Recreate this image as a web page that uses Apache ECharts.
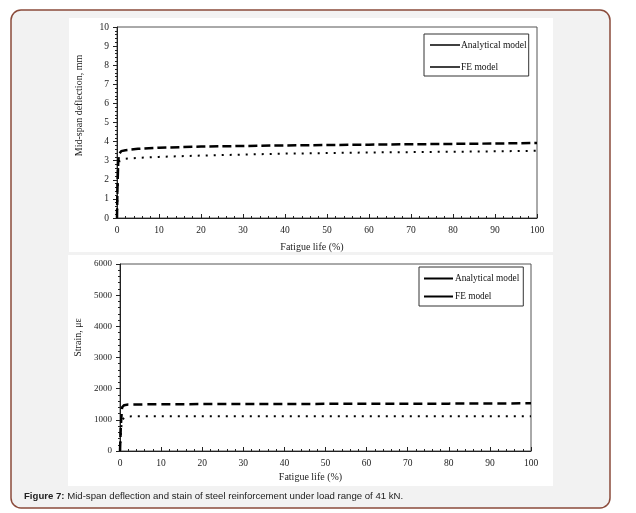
<!DOCTYPE html>
<html><head><meta charset="utf-8">
<script src="https://cdn.jsdelivr.net/npm/echarts@6/dist/echarts.min.js"></script>
<style>html,body{margin:0;padding:0;background:#fff}#c{width:636px;height:513px}</style>
</head><body><div id="c"></div>
<script>
// Top chart: mid-span deflection (mm) vs fatigue life (%)
const topAnaX = [0, 0.1, 0.3, 0.5, 1, 2, 5, 10, 20, 30, 40, 50, 60, 70, 80, 90, 100];
const topAnaY = [0, 1.5, 3.0, 3.35, 3.5, 3.55, 3.62, 3.68, 3.74, 3.77, 3.8, 3.82, 3.84, 3.86, 3.88, 3.9, 3.93];
const topFeX = [0, 0.1, 0.3, 0.6, 1, 2, 5, 10, 20, 30, 40, 50, 60, 70, 80, 90, 100];
const topFeY = [0, 1.2, 2.6, 3.0, 3.05, 3.1, 3.15, 3.2, 3.27, 3.32, 3.37, 3.4, 3.43, 3.45, 3.47, 3.49, 3.52];
// Bottom chart: strain (microstrain) vs fatigue life (%)
const botAnaX = [0, 0.2, 0.5, 1, 2, 5, 10, 20, 40, 60, 80, 100];
const botAnaY = [0, 800, 1400, 1470, 1490, 1495, 1500, 1505, 1510, 1515, 1520, 1530];
const botFeX = [0, 0.2, 0.5, 1, 1.5, 2, 5, 10, 20, 40, 60, 80, 100];
const botFeY = [0, 600, 1000, 1060, 1090, 1110, 1115, 1115, 1115, 1115, 1115, 1115, 1115];
const seriesNames = ['Analytical model', 'FE model'];
const xTitle = 'Fatigue life (%)';
const topYTitle = 'Mid-span deflection, mm';
const botYTitle = 'Strain, \u03bc\u03b5';

const pair = (xs, ys) => xs.map((x, i) => [x, ys[i]]);
const serif = 'Liberation Serif';

function xAx(gi, fs, gap) {
  return {
    type: 'value', gridIndex: gi, min: 0, max: 100, interval: 10,
    name: xTitle, nameLocation: 'middle', nameGap: gap,
    nameTextStyle: { fontFamily: serif, fontSize: 10, color: '#222', padding: [0, 30, 0, 0] },
    axisLine: { lineStyle: { color: '#222', width: 1 } },
    axisTick: { inside: true, length: 4, lineStyle: { color: '#222' } },
    minorTick: { show: true, splitNumber: 5, length: 2, lineStyle: { color: '#222' } },
    axisLabel: { fontFamily: serif, fontSize: fs, color: '#222', margin: 7 },
    splitLine: { show: false }
  };
}
function yAx(gi, max, interval, name, pad, fs) {
  return {
    type: 'value', gridIndex: gi, min: 0, max: max, interval: interval,
    name: name, nameLocation: 'middle', nameGap: 33,
    nameTextStyle: { fontFamily: serif, fontSize: 10, color: '#222', padding: pad },
    axisLine: { show: true, lineStyle: { color: '#222', width: 1 } },
    axisTick: { show: true, inside: false, length: 4, lineStyle: { color: '#222' } },
    minorTick: { show: true, splitNumber: 5, length: 2, lineStyle: { color: '#222' } },
    axisLabel: { fontFamily: serif, fontSize: fs, color: '#222', margin: 8, formatter: (v) => String(v) },
    splitLine: { show: false }
  };
}
function ser(name, gi, data, width, dash) {
  return {
    name: name, type: 'line', xAxisIndex: gi, yAxisIndex: gi, data: data,
    showSymbol: false, symbol: 'none', smooth: false, silent: true, animation: false,
    color: '#000',
    lineStyle: { color: '#000', width: width, type: dash }
  };
}

const chart = echarts.init(document.getElementById('c'), null, { renderer: 'canvas' });
chart.setOption({
  backgroundColor: '#ffffff',
  animation: false,
  graphic: [
    { type: 'rect', z: -10, shape: { x: 11, y: 10, width: 599, height: 498, r: 10 },
      style: { fill: '#f2f2f2', stroke: '#8b4b3b', lineWidth: 1.5 } },
    { type: 'rect', z: -9, shape: { x: 69, y: 18, width: 484, height: 234 }, style: { fill: '#fff' } },
    { type: 'rect', z: -9, shape: { x: 68, y: 255, width: 485, height: 231 }, style: { fill: '#fff' } },
    { type: 'text', left: 24, top: 491, style: {
        text: '{b|Figure 7:} Mid-span deflection and stain of steel reinforcement under load range of 41 kN.',
        fontFamily: 'Liberation Sans', fontSize: 9.6, fill: '#222',
        rich: { b: { fontWeight: 'bold', fontFamily: 'Liberation Sans', fontSize: 9.6, fill: '#222' } } } }
  ],
  grid: [
    { left: 117, top: 27, width: 420, height: 191, show: true, borderColor: '#555', borderWidth: 1, backgroundColor: 'transparent' },
    { left: 120, top: 264, width: 411, height: 187, show: true, borderColor: '#555', borderWidth: 1, backgroundColor: 'transparent' }
  ],
  legend: [
    { data: seriesNames, orient: 'vertical', left: 424, top: 34, icon: 'rect', itemWidth: 30, itemHeight: 1.5,
      itemGap: 12, padding: [6, 2, 4, 6], borderColor: '#333', borderWidth: 1, backgroundColor: '#fff',
      selectedMode: false, textStyle: { fontFamily: serif, fontSize: 9.5, color: '#111', padding: [0, 0, 0, -4] } },
    { data: seriesNames, orient: 'vertical', left: 419, top: 267, icon: 'rect', itemWidth: 29, itemHeight: 2,
      itemGap: 9, padding: [7, 4, 5, 5], borderColor: '#333', borderWidth: 1, backgroundColor: '#fff',
      selectedMode: false, textStyle: { fontFamily: serif, fontSize: 9.3, color: '#111', padding: [0, 0, 0, -3] } }
  ],
  xAxis: [xAx(0, 9.5, 24), xAx(1, 9.5, 21)],
  yAxis: [yAx(0, 10, 1, topYTitle, [0, 0, 0, 34], 9.5), yAx(1, 6000, 1000, botYTitle, [0, 0, 0, 40], 9)],
  series: [
    ser(seriesNames[0], 0, pair(topAnaX, topAnaY), 2.5, [9, 4]),
    ser(seriesNames[1], 0, pair(topFeX, topFeY), 2, [2, 6]),
    ser(seriesNames[0], 1, pair(botAnaX, botAnaY), 2.5, [9, 5]),
    ser(seriesNames[1], 1, pair(botFeX, botFeY), 2, [2, 6])
  ]
});
</script></body></html>
